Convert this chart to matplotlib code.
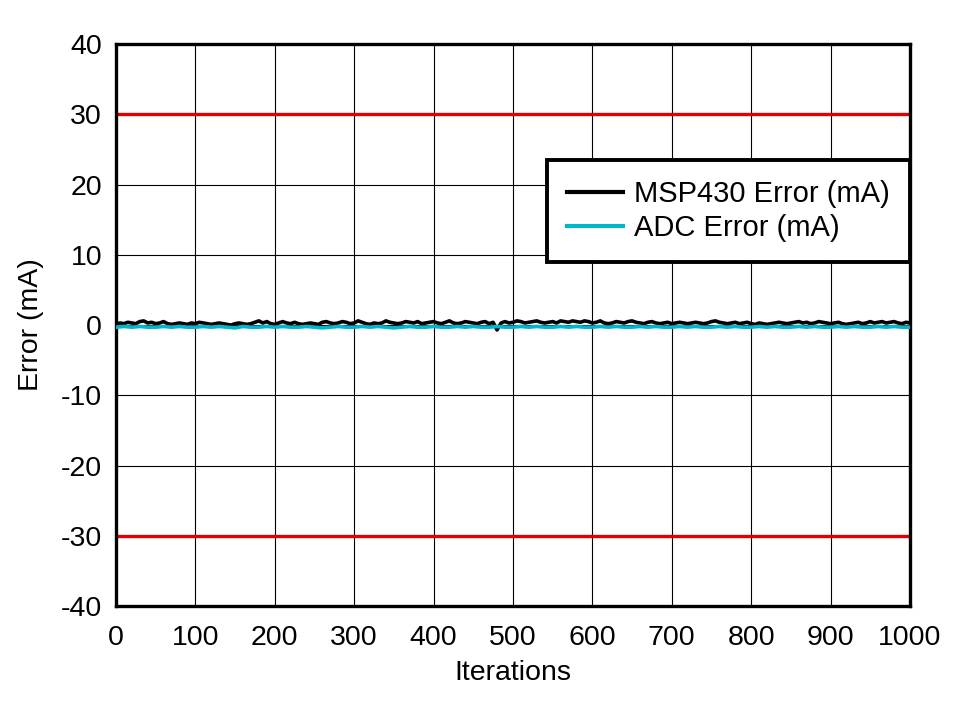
import numpy as np
import matplotlib.pyplot as plt

plt.rcParams['font.family'] = ['Liberation Sans', 'DejaVu Sans']
plt.rcParams['axes.unicode_minus'] = False

# error readings (black every 5 iterations, cyan every 10)
msp_iter = np.arange(0, 1001, 5)
msp_err = [
    0.1, 0.3, 0.2, 0.4, 0.3, 0.2, 0.5, 0.6, 0.3, 0.4, 0.2, 0.3, 0.5, 0.2, 0.1, 0.2, 0.3, 0.2, 0.1, 0.3,
    0.2, 0.4, 0.3, 0.2, 0.1, 0.2, 0.3, 0.2, 0.1, 0.0, 0.2, 0.3, 0.2, 0.1, 0.2, 0.4, 0.6, 0.3, 0.5, 0.2,
    0.1, 0.3, 0.5, 0.3, 0.2, 0.4, 0.2, 0.1, 0.2, 0.3, 0.2, 0.1, 0.4, 0.5, 0.3, 0.2, 0.3, 0.5, 0.4, 0.2,
    0.3, 0.6, 0.4, 0.2, 0.1, 0.3, 0.2, 0.3, 0.6, 0.4, 0.3, 0.2, 0.3, 0.5, 0.4, 0.3, 0.5, 0.2, 0.3, 0.4,
    0.5, 0.3, 0.2, 0.4, 0.6, 0.3, 0.2, 0.3, 0.5, 0.4, 0.3, 0.2, 0.4, 0.5, 0.2, 0.4, -0.7, 0.3, 0.5, 0.3,
    0.4, 0.6, 0.5, 0.3, 0.4, 0.5, 0.6, 0.4, 0.3, 0.4, 0.5, 0.3, 0.6, 0.5, 0.4, 0.6, 0.5, 0.4, 0.6, 0.5,
    0.3, 0.4, 0.6, 0.3, 0.2, 0.3, 0.5, 0.4, 0.3, 0.5, 0.6, 0.4, 0.3, 0.2, 0.4, 0.5, 0.3, 0.2, 0.3, 0.4,
    0.2, 0.3, 0.4, 0.3, 0.2, 0.3, 0.4, 0.3, 0.2, 0.3, 0.5, 0.6, 0.4, 0.3, 0.2, 0.3, 0.4, 0.2, 0.3, 0.4,
    0.2, 0.1, 0.3, 0.2, 0.1, 0.2, 0.3, 0.4, 0.3, 0.2, 0.3, 0.4, 0.5, 0.3, 0.4, 0.2, 0.3, 0.5, 0.4, 0.3,
    0.2, 0.3, 0.4, 0.2, 0.1, 0.2, 0.3, 0.4, 0.2, 0.3, 0.5, 0.3, 0.4, 0.5, 0.3, 0.4, 0.5, 0.3, 0.2, 0.4,
    0.3,
]
adc_iter = np.arange(0, 1001, 10)
adc_err = [
    -0.3, -0.2, -0.3, -0.2, -0.3, -0.3, -0.2, -0.3, -0.2, -0.3, -0.3, -0.2, -0.3, -0.2, -0.3, -0.4, -0.2, -0.3, -0.3, -0.2,
    -0.3, -0.2, -0.3, -0.3, -0.2, -0.3, -0.4, -0.3, -0.2, -0.3, -0.3, -0.2, -0.3, -0.2, -0.3, -0.4, -0.3, -0.2, -0.3, -0.3,
    -0.2, -0.3, -0.3, -0.2, -0.3, -0.2, -0.3, -0.3, -0.2, -0.3, -0.3, -0.2, -0.3, -0.2, -0.3, -0.3, -0.2, -0.3, -0.2, -0.3,
    -0.3, -0.2, -0.3, -0.2, -0.3, -0.3, -0.2, -0.3, -0.2, -0.3, -0.3, -0.2, -0.3, -0.2, -0.3, -0.3, -0.2, -0.3, -0.2, -0.3,
    -0.3, -0.2, -0.3, -0.2, -0.3, -0.3, -0.2, -0.3, -0.2, -0.3, -0.3, -0.2, -0.3, -0.2, -0.3, -0.3, -0.2, -0.3, -0.2, -0.3,
    -0.3,
]
limit = 30

fig = plt.figure(figsize=(9.66, 7.01), dpi=100)
ax = fig.add_axes([0.120, 0.1355, 0.822, 0.8015])

ax.axhline(limit, color='#e00000', lw=2.4, zorder=2)
ax.axhline(-limit, color='#e00000', lw=2.4, zorder=2)
ax.plot(msp_iter, msp_err, color='black', lw=2.6, label='MSP430 Error (mA)', zorder=3)
ax.plot(adc_iter, adc_err, color='#00b8cc', lw=2.6, label='ADC Error (mA)', zorder=4)

ax.set_xlim(0, 1000)
ax.set_ylim(-40, 40)
ax.set_xticks(np.arange(0, 1001, 100))
ax.set_yticks(np.arange(-40, 41, 10))
ax.grid(True, color='black', lw=0.8)
ax.tick_params(length=0, labelsize=20.5)
ax.tick_params(axis='x', pad=14)
ax.tick_params(axis='y', pad=10)
for s in ax.spines.values():
    s.set_linewidth(2.4)

ax.set_xlabel('Iterations', fontsize=20.5, labelpad=6)
ax.set_ylabel('Error (mA)', fontsize=20.5, labelpad=12)

leg = ax.legend(loc='upper right', bbox_to_anchor=(1.0, 0.794), borderaxespad=0,
                fontsize=21, fancybox=False, framealpha=1, edgecolor='black',
                handlelength=1.9, handletextpad=0.4, borderpad=0.68, labelspacing=0.22)
leg.get_frame().set_linewidth(2.8)
for h in leg.get_lines():
    h.set_linewidth(3)

fig.savefig('out.png', dpi=100)
